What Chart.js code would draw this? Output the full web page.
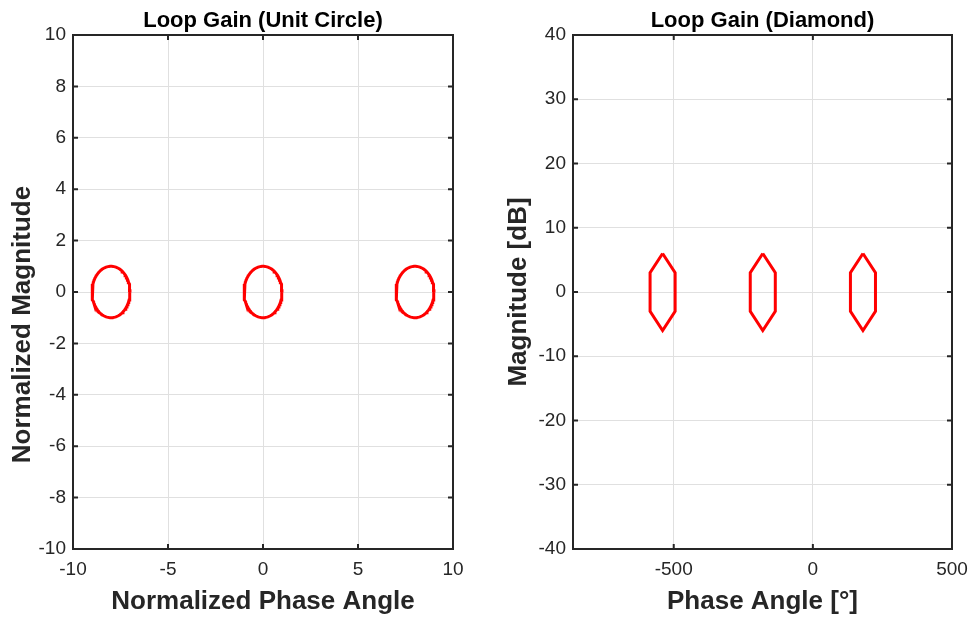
<!DOCTYPE html>
<html>
<head>
<meta charset="utf-8">
<script src="https://cdn.jsdelivr.net/npm/chart.js@4.4.0/dist/chart.umd.min.js"></script>
<style>
  html, body { margin: 0; padding: 0; background: #fff; }
  #wrap { position: relative; width: 973px; height: 622px; }
  .panel { position: absolute; top: 0; height: 622px; }
</style>
</head>
<body>
<div id="wrap">
  <div class="panel" style="left:0;width:480px"><canvas id="leftChart"></canvas></div>
  <div class="panel" style="left:480px;width:493px"><canvas id="rightChart"></canvas></div>
</div>
<script>
// left panel: unit circles
const circleCenters = [-8, 0, 8];
const circleRadius = 1;
const leftXTicks = [-10, -5, 0, 5, 10];
const leftYTicks = [-10, -8, -6, -4, -2, 0, 2, 4, 6, 8, 10];

// right panel: "diamond" outlines (phase in deg, magnitude in dB)
const diamondCenters = [-540, -180, 180];
const diamondPhase = [0, 45, 45, 0, -45, -45, 0];
const diamondMag = [6, 3, -3, -6, -3, 3, 6];
const rightXTicks = [-500, 0, 500];
const rightYTicks = [-40, -30, -20, -10, 0, 10, 20, 30, 40];

const FONT = "'Liberation Sans', Arial, Helvetica, sans-serif";
const AXIS_COLOR = '#262626';
const GRID_COLOR = '#e0e0e0';
const RED = '#ff0000';

// outline of a circle around a center (shape, not data)
function circleOutline(cx, r) {
  const pts = [];
  for (let i = 0; i <= 120; i++) {
    const a = i / 120 * 2 * Math.PI;
    pts.push({ x: cx + r * Math.cos(a), y: r * Math.sin(a) });
  }
  return pts;
}

function diamondOutline(cx) {
  return diamondPhase.map((p, i) => ({ x: cx + p, y: diamondMag[i] }));
}

// matlab style box with ticks pointing inwards
const boxPlugin = {
  id: 'boxPlugin',
  afterDatasetsDraw(chart) {
    const { ctx, chartArea: a, scales: { x, y } } = chart;
    const len = 5;
    ctx.save();
    ctx.strokeStyle = AXIS_COLOR;
    ctx.lineWidth = 2;
    ctx.beginPath();
    x.ticks.forEach(t => {
      const px = x.getPixelForValue(t.value);
      ctx.moveTo(px, a.bottom); ctx.lineTo(px, a.bottom - len);
      ctx.moveTo(px, a.top); ctx.lineTo(px, a.top + len);
    });
    y.ticks.forEach(t => {
      const py = y.getPixelForValue(t.value);
      ctx.moveTo(a.left, py); ctx.lineTo(a.left + len, py);
      ctx.moveTo(a.right, py); ctx.lineTo(a.right - len, py);
    });
    ctx.stroke();
    ctx.strokeRect(a.left, a.top, a.width, a.height);
    ctx.restore();
  }
};

function makeChart(id, cfg) {
  return new Chart(document.getElementById(id), {
    type: 'scatter',
    data: {
      datasets: cfg.shapes.map(pts => ({
        data: pts,
        showLine: true,
        borderColor: RED,
        borderWidth: 3,
        pointRadius: 0,
        fill: false,
        tension: 0
      }))
    },
    options: {
      responsive: true,
      maintainAspectRatio: false,
      animation: false,
      layout: { padding: { left: 0, right: cfg.rightPad, top: 0, bottom: 0 } },
      plugins: {
        legend: { display: false },
        tooltip: { enabled: false },
        title: {
          display: true,
          text: cfg.title,
          fullSize: false,
          color: '#000',
          font: { family: FONT, size: 22, weight: 'bold' },
          padding: { top: 8, bottom: 0.6 }
        }
      },
      scales: {
        x: {
          type: 'linear',
          min: cfg.xMin, max: cfg.xMax,
          afterBuildTicks: s => { s.ticks = cfg.xTicks.map(v => ({ value: v })); },
          afterFit: s => { s.height = 73; s.paddingLeft = 0; s.paddingRight = 0; },
          grid: { color: GRID_COLOR, drawTicks: false },
          border: { display: false },
          ticks: { color: AXIS_COLOR, padding: 9, maxRotation: 0, font: { family: FONT, size: 19 } },
          title: {
            display: true, text: cfg.xTitle, color: AXIS_COLOR,
            font: { family: FONT, size: 26, weight: 'bold' },
            padding: { top: 0, bottom: 5 }
          }
        },
        y: {
          type: 'linear',
          min: cfg.yMin, max: cfg.yMax,
          afterBuildTicks: s => { s.ticks = cfg.yTicks.map(v => ({ value: v })); },
          afterFit: s => { s.width = cfg.yWidth; s.paddingTop = 0; s.paddingBottom = 0; },
          grid: { color: GRID_COLOR, drawTicks: false },
          border: { display: false },
          ticks: { color: AXIS_COLOR, padding: 7, font: { family: FONT, size: 19 } },
          title: {
            display: true, text: cfg.yTitle, color: AXIS_COLOR,
            font: { family: FONT, size: 26, weight: 'bold' },
            padding: { top: cfg.yTitlePad, bottom: 0 }
          }
        }
      }
    },
    plugins: [boxPlugin]
  });
}

makeChart('leftChart', {
  title: 'Loop Gain (Unit Circle)',
  xTitle: 'Normalized Phase Angle',
  // trailing spaces push the label down a bit, as in the original
  yTitle: 'Normalized Magnitude         ',
  shapes: circleCenters.map(c => circleOutline(c, circleRadius)),
  xMin: -10, xMax: 10, yMin: -10, yMax: 10,
  xTicks: leftXTicks, yTicks: leftYTicks,
  yWidth: 73, yTitlePad: 7.5, rightPad: 27
});

makeChart('rightChart', {
  title: 'Loop Gain (Diamond)',
  xTitle: 'Phase Angle [°]',
  yTitle: 'Magnitude [dB]',
  shapes: diamondCenters.map(c => diamondOutline(c)),
  xMin: -862, xMax: 500, yMin: -40, yMax: 40,
  xTicks: rightXTicks, yTicks: rightYTicks,
  yWidth: 93, yTitlePad: 23, rightPad: 21
});
</script>
</body>
</html>
